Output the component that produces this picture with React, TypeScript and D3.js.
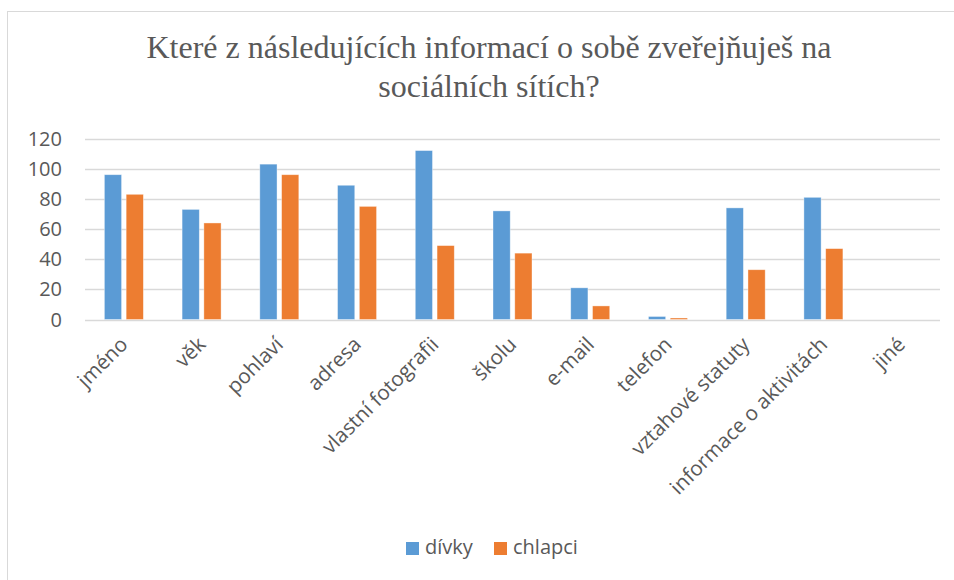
import React from "react";
import * as d3 from "d3";

const categories = ["jméno", "věk", "pohlaví", "adresa", "vlastní fotografii", "školu", "e-mail", "telefon", "vztahové statuty", "informace o aktivitách", "jiné"];
const divky = [96, 73, 103, 89, 112, 72, 21, 2, 74, 81, 0];
const chlapci = [83, 64, 96, 75, 49, 44, 9, 1, 33, 47, 0];
const seriesNames = ["dívky", "chlapci"];
const seriesColors = ["#5B9BD5", "#ED7D31"];
const yTicks = [0, 20, 40, 60, 80, 100, 120];
const titleLines = ["Které z následujících informací o sobě zveřejňuješ na", "sociálních sítích?"];

const W = 954, H = 580;
const plotLeft = 85, plotRight = 940, plotTop = 138.5, plotBottom = 319.5;
const font = "'Open Sans', sans-serif";
const textColor = "#595959";

export default function App() {
  const x = d3.scaleBand<string>().domain(categories).range([plotLeft, plotRight]).paddingInner(0).paddingOuter(0);
  const y = d3.scaleLinear().domain([0, 120]).range([plotBottom, plotTop]);
  const inner = d3.scaleBand<number>().domain([0, 1]).range([-19.5, 19.5]).paddingInner(0.21);
  const data = [divky, chlapci];

  return (
    <svg width={W} height={H} style={{ position: "absolute", left: 0, top: 0, background: "#fff" }}>
      <rect x={7.5} y={11.5} width={W + 10} height={H + 10} fill="#fff" stroke="#D9D9D9" strokeWidth={1} />
      {titleLines.map((t, i) => (
        <text key={i} x={489} y={58 + i * 39} textAnchor="middle" fontFamily="'Liberation Serif', 'Times New Roman', serif" fontSize={32} fill={textColor}>{t}</text>
      ))}
      {yTicks.map((t) => (
        <g key={t}>
          <line x1={plotLeft} x2={plotRight} y1={Math.round(y(t)) + 0.5} y2={Math.round(y(t)) + 0.5} stroke="#D9D9D9" strokeWidth={1.3} />
          <text x={62} y={y(t)} dy="0.35em" textAnchor="end" fontFamily={font} fontSize={20} fill={textColor}>{t}</text>
        </g>
      ))}
      {categories.map((c, ci) => {
        const cx = (x(c) as number) + x.bandwidth() / 2;
        return (
          <g key={c}>
            {data.map((s, si) => (
              s[ci] > 0 ? (
                <rect key={si} x={cx + (inner(si) as number)} y={y(s[ci])} width={inner.bandwidth()} height={y(0) - y(s[ci])} fill={seriesColors[si]} stroke="#fff" strokeOpacity={0.5} strokeWidth={0.75} />
              ) : null
            ))}
            <text transform={`translate(${cx - 5},${plotBottom + 16}) rotate(-45)`} textAnchor="end" dy="0.7em" fontFamily={font} fontSize={20.6} fill={textColor}>{c}</text>
          </g>
        );
      })}
      {seriesNames.map((n, i) => {
        const lx = [406, 494][i];
        return (
          <g key={n}>
            <rect x={lx} y={542} width={13} height={13} fill={seriesColors[i]} />
            <text x={lx + 19} y={554} fontFamily={font} fontSize={20} fill={textColor}>{n}</text>
          </g>
        );
      })}
    </svg>
  );
}
